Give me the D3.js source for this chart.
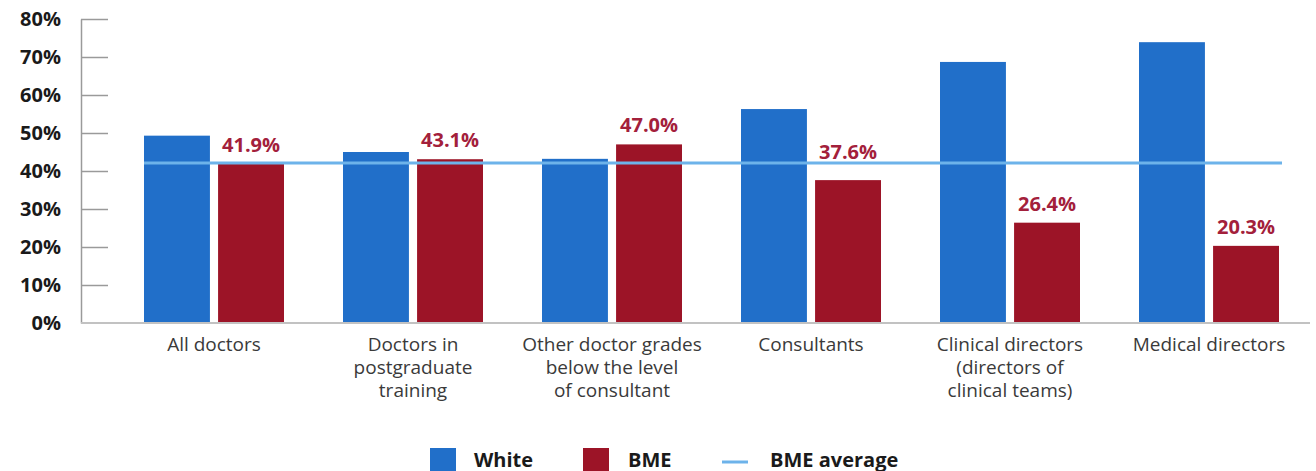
<!DOCTYPE html>
<html>
<head>
<meta charset="utf-8">
<script src="https://cdn.jsdelivr.net/npm/d3@7"></script>
<style>
  html, body { margin: 0; padding: 0; background: #fff; }
  svg { display: block; font-family: "Open Sans", "Noto Sans", sans-serif; }
</style>
</head>
<body>
<svg id="chart" width="1316" height="471"></svg>
<script>
// Share of doctors by grade, White vs BME
const categories = [
  ["All doctors"],
  ["Doctors in", "postgraduate", "training"],
  ["Other doctor grades", "below the level", "of consultant"],
  ["Consultants"],
  ["Clinical directors", "(directors of", "clinical teams)"],
  ["Medical directors"]
];
const whiteValues = [49.3, 45.0, 43.2, 56.3, 68.7, 73.9];
const bmeValues = [41.9, 43.1, 47.0, 37.6, 26.4, 20.3];
const bmeAverage = 42.1;
const yTicks = [0, 10, 20, 30, 40, 50, 60, 70, 80];
const seriesNames = ["White", "BME"];

const BLUE = "#216fc9";
const RED = "#9c1427";
const LINE = "#6db3ea";
const LABEL_RED = "#a3203b";

const svg = d3.select("#chart");

const y = d3.scaleLinear().domain([0, 80]).range([323, 19]);
const x0 = d3.scaleBand().domain(d3.range(categories.length)).range([114, 1308]);
const x1 = d3.scaleBand().domain(seriesNames).range([30, 170]).paddingInner(0.11);

// y axis
const yAxis = d3.axisLeft(y).tickValues(yTicks).tickSize(0).tickFormat(d => d + "%");
const gy = svg.append("g").attr("transform", "translate(81,0)").call(yAxis);
gy.select(".domain").attr("stroke", "#9a9a9a").attr("stroke-width", 1.5);
gy.selectAll(".tick text")
  .attr("x", -20)
  .attr("fill", "#1a1a1a")
  .style("font-size", "20px")
  .style("font-weight", "700")
  .style("font-family", "'Open Sans', sans-serif");
gy.selectAll(".tick").filter(d => d > 0).append("line")
  .attr("x1", 0).attr("x2", 27)
  .attr("stroke", "#9a9a9a").attr("stroke-width", 1.5);

// bars
const groups = svg.append("g").selectAll("g")
  .data(categories.map((c, i) => ({ i, vals: [whiteValues[i], bmeValues[i]] })))
  .join("g")
  .attr("transform", d => `translate(${x0(d.i)},0)`);

groups.selectAll("rect")
  .data(d => d.vals.map((v, k) => ({ name: seriesNames[k], v })))
  .join("rect")
  .attr("x", d => x1(d.name))
  .attr("width", x1.bandwidth())
  .attr("y", d => y(d.v))
  .attr("height", d => y(0) - y(d.v))
  .attr("fill", d => d.name === "White" ? BLUE : RED);

// baseline
svg.append("line")
  .attr("x1", 81).attr("x2", 1310)
  .attr("y1", y(0)).attr("y2", y(0))
  .attr("stroke", "#c2c2c2").attr("stroke-width", 2);

// BME average line
const avgY = y(bmeAverage);
svg.append("line")
  .attr("x1", x0(0) + x1("White"))
  .attr("x2", x0(categories.length - 1) + x1("BME") + x1.bandwidth() + 3)
  .attr("y1", avgY).attr("y2", avgY)
  .attr("stroke", LINE).attr("stroke-width", 3);

// BME value labels, lifted clear of the average line where they would cross it
function labelBaseline(v) {
  const b = y(v) - 12;
  if (b - 15 < avgY + 2 && b > avgY - 2) return avgY - 4;
  return b;
}
groups.append("text")
  .attr("x", x1("BME") + x1.bandwidth() / 2)
  .attr("y", d => labelBaseline(d.vals[1]))
  .attr("text-anchor", "middle")
  .attr("fill", LABEL_RED)
  .style("font-size", "20px")
  .style("font-weight", "700")
  .text(d => d.vals[1].toFixed(1) + "%");

// category labels
groups.append("text")
  .attr("x", 100)
  .attr("y", 351)
  .attr("text-anchor", "middle")
  .attr("fill", "#3a3a3a")
  .style("font-size", "19px")
  .selectAll("tspan")
  .data(d => categories[d.i])
  .join("tspan")
  .attr("x", 100)
  .attr("dy", (d, j) => j === 0 ? 0 : 23)
  .text(d => d);

// legend
const legend = svg.append("g").style("font-size", "20px").style("font-weight", "700");
legend.append("rect").attr("x", 430).attr("y", 448).attr("width", 26).attr("height", 26).attr("fill", BLUE);
legend.append("text").attr("x", 474).attr("y", 467).attr("fill", "#1a1a1a").text("White");
legend.append("rect").attr("x", 583).attr("y", 448).attr("width", 26).attr("height", 26).attr("fill", RED);
legend.append("text").attr("x", 628).attr("y", 467).attr("fill", "#1a1a1a").text("BME");
legend.append("line").attr("x1", 722).attr("x2", 748).attr("y1", 462).attr("y2", 462)
  .attr("stroke", LINE).attr("stroke-width", 3);
legend.append("text").attr("x", 770).attr("y", 467).attr("fill", "#1a1a1a").text("BME average");
</script>
</body>
</html>
